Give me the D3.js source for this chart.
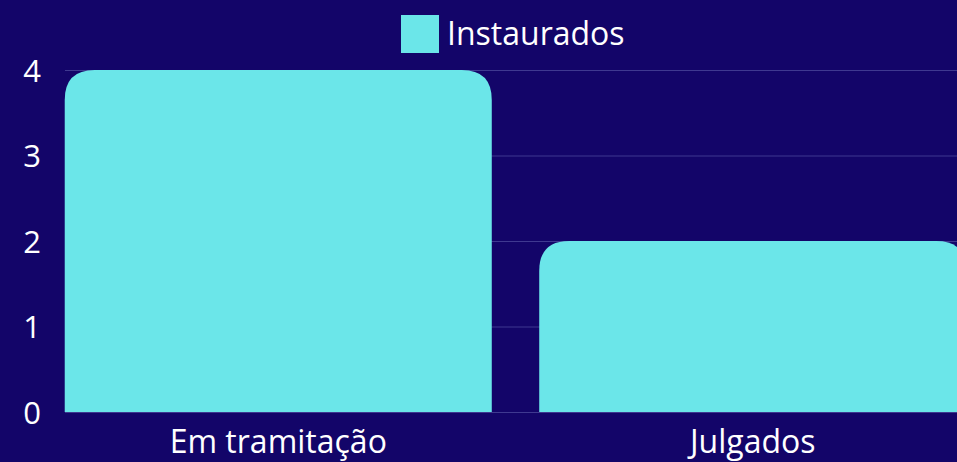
<!DOCTYPE html>
<html lang="pt">
<head>
<meta charset="UTF-8">
<title>Instaurados</title>
<script src="https://cdn.jsdelivr.net/npm/d3@7"></script>
<style>
    html, body { margin: 0; padding: 0; background: #130569; }
    svg { display: block; font-family: "Open Sans", "Noto Sans", sans-serif; }
</style>
</head>
<body>
<script>

    // DATA
    const categories = ["Em tramitação", "Julgados"]
    const values = [4, 2]
    const yTicks = [0, 1, 2, 3, 4]
    const seriesName = "Instaurados"

    const W = 957, H = 462
    const barColor = "#6be6e9"
    const gridColor = "#3f3990"

    let svg = d3.select("body").append("svg")
        .attr("width", W).attr("height", H)

    // SCALES
    let x = d3.scaleBand()
        .domain(categories)
        .range([41, 990])
        .paddingInner(0.1)
        .paddingOuter(0.05)

    let y = d3.scaleLinear()
        .domain([0, 4])
        .range([412, 70])

    // GRID
    svg.append("g").selectAll("line")
        .data(yTicks)
        .join("line")
        .attr("x1", 65).attr("x2", W)
        .attr("y1", d => y(d) + 0.5).attr("y2", d => y(d) + 0.5)
        .style("stroke", gridColor)
        .style("stroke-width", 1.2)

    // BARS (rounded top)
    const r = 30
    function barPath(d, i) {
        let x0 = x(categories[i]), x1 = x0 + x.bandwidth()
        let y0 = y(d), yb = y(0)
        return `M${x0},${yb} L${x0},${y0 + r} Q${x0},${y0} ${x0 + r},${y0} L${x1 - r},${y0} Q${x1},${y0} ${x1},${y0 + r} L${x1},${yb} Z`
    }
    svg.append("g").selectAll("path")
        .data(values)
        .join("path")
        .attr("d", barPath)
        .style("fill", barColor)

    // Y AXIS
    const yAxis = d3.axisLeft(y).tickValues(yTicks).tickFormat(d3.format("d")).tickSize(0).tickPadding(0)
    let gy = svg.append("g").attr("transform", "translate(41,0)").call(yAxis)
        .attr("font-family", null).attr("font-size", null)
    gy.select(".domain").remove()
    gy.selectAll("text").style("font-size", "31px").style("fill", "#ffffff")
        .attr("dy", "0.36em")

    // X AXIS
    const xAxis = d3.axisBottom(x).tickSize(0).tickPadding(0)
    let gx = svg.append("g").attr("transform", "translate(0,423)").call(xAxis)
        .attr("font-family", null).attr("font-size", null)
    gx.select(".domain").remove()
    gx.selectAll("text").style("font-size", "32px").style("fill", "#ffffff")
        .attr("dy", "0.95em")

    // LEGEND
    svg.append("rect").attr("x", 401).attr("y", 15).attr("width", 38).attr("height", 38)
        .style("fill", barColor)
    svg.append("text").attr("x", 447).attr("y", 45).text(seriesName)
        .style("font-size", "32px").style("fill", "#ffffff")

</script>
</body>
</html>
